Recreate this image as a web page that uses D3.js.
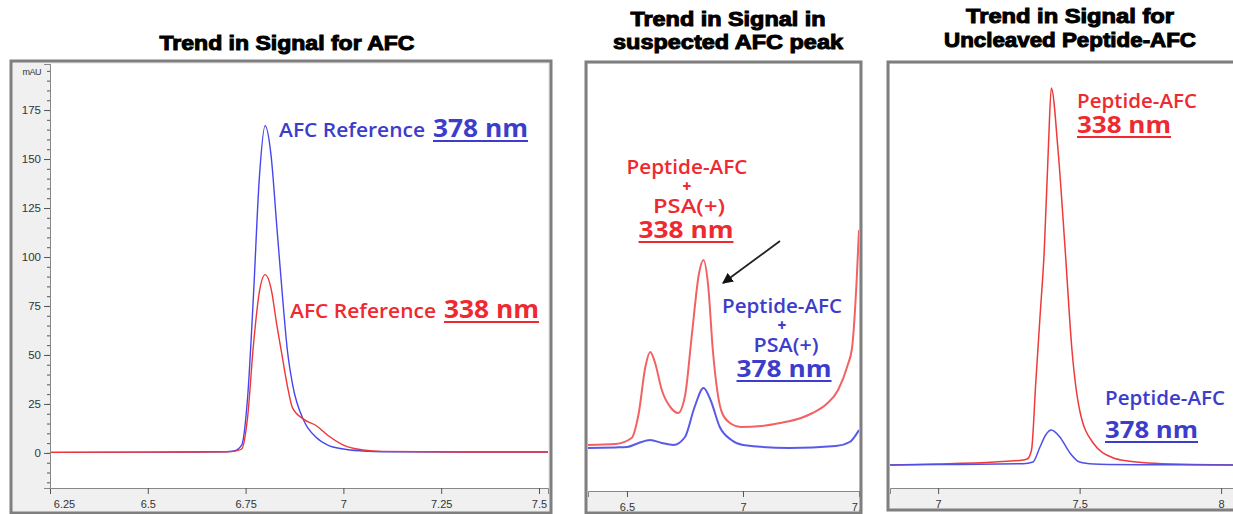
<!DOCTYPE html>
<html>
<head>
<meta charset="utf-8">
<script src="https://cdn.jsdelivr.net/npm/d3@7"></script>
<style>
  body { margin: 0; background: #fff; }
  svg { display: block; }
</style>
</head>
<body>
<div id="chart"></div>
<script>
// ---- data ----
// panel 1: AFC reference
var afcTime = [6.25, 6.5, 6.7, 6.72, 6.74, 6.755, 6.77, 6.785, 6.80, 6.815, 6.83, 6.843, 6.857, 6.87, 6.9, 6.93, 6.96, 7.0, 7.05, 7.1, 7.3, 7.523];
var afc378 = [0.3, 0.4, 0.6, 1, 4, 28, 80, 140, 167, 152, 115, 83, 52, 35, 16, 8, 4, 2, 1, 0.6, 0.5, 0.5];
var afc338 = [0.3, 0.4, 0.6, 0.8, 2, 18, 55, 82, 91, 84, 65, 50, 34, 23, 17, 14, 9, 4, 1.5, 0.8, 0.5, 0.5];

// panel 2: suspected AFC peak (relative signal)
var psaTime338 = [6.332, 6.45, 6.52, 6.55, 6.58, 6.6, 6.62, 6.65, 6.69, 6.72, 6.75, 6.78, 6.81, 6.83, 6.85, 6.87, 6.91, 6.95, 6.99, 7.08, 7.16, 7.25, 7.3, 7.36, 7.41, 7.45, 7.47, 7.49, 7.5];
var psa338 = [2.5, 3, 6, 18, 42, 49, 44, 30, 21, 18.5, 27, 58, 88, 95, 82, 50, 18.5, 13, 11.5, 12, 13.5, 16, 18.5, 23, 30, 42, 51, 85, 110];
var psaTime378 = [6.332, 6.45, 6.5, 6.55, 6.6, 6.65, 6.7, 6.75, 6.79, 6.83, 6.86, 6.9, 6.95, 7.0, 7.2, 7.4, 7.46, 7.5];
var psa378 = [1, 1.3, 1.5, 3.5, 5, 3.5, 2.5, 6.5, 21, 31, 25, 11.5, 5, 2.5, 1, 2, 4, 10];

// panel 3: uncleaved peptide-AFC (relative signal)
var pepTime338 = [6.83, 7.0, 7.2, 7.3, 7.315, 7.33, 7.345, 7.36, 7.375, 7.39, 7.4, 7.424, 7.449, 7.473, 7.5, 7.548, 7.62, 7.67, 7.74, 7.9, 8.042];
var pep338 = [0, 0.5, 1.5, 2.5, 3, 7.5, 41, 74, 107, 160, 188.5, 157, 107.5, 57.5, 27.5, 11, 3.5, 2, 1, 0.3, 0];
var pepTime378 = [6.83, 7.0, 7.3, 7.335, 7.36, 7.38, 7.4, 7.43, 7.466, 7.5, 7.55, 7.6, 7.8, 8.042];
var pep378 = [0, 0.2, 0.6, 1.5, 9, 15, 17.5, 14, 6, 1.5, 0.5, 0.3, 0.1, 0];

// axis ticks
var p1YMajor = [0, 25, 50, 75, 100, 125, 150, 175];
var p1XMajor = [6.25, 6.5, 6.75, 7, 7.25, 7.5];
var p2XMajor = [6.5, 7, 7.5];
var p3XMajor = [7, 7.5, 8];

var RED = "#ee2a30", BLUE = "#3d3dcc";

var svg = d3.select("#chart").append("svg")
  .attr("width", 1233).attr("height", 514)
  .style("font-family", "'Liberation Sans', Arial, sans-serif");
var defs = svg.append("defs");

function title(lines, cx, baselines, lengths) {
  lines.forEach(function(t, i) {
    svg.append("text")
      .attr("x", cx).attr("y", baselines[i])
      .attr("text-anchor", "middle")
      .attr("font-size", 20).attr("font-weight", "bold")
      .attr("stroke", "#000").attr("stroke-width", 1)
      .attr("textLength", lengths[i]).attr("lengthAdjust", "spacingAndGlyphs")
      .text(t);
  });
}

function panel(opt) {
  var g = svg.append("g");
  // frame + grey axis strips
  g.append("rect")
    .attr("x", opt.frame[0]).attr("y", opt.frame[1])
    .attr("width", opt.frame[2]).attr("height", opt.frame[3])
    .attr("fill", "#f0f0f0").attr("stroke", "#7f7f7f").attr("stroke-width", 3);
  g.append("rect")
    .attr("x", opt.x0).attr("y", opt.y0)
    .attr("width", opt.x1 - opt.x0).attr("height", opt.y1 - opt.y0)
    .attr("fill", "#fff");

  var frameClip = "frame" + opt.id;
  defs.append("clipPath").attr("id", frameClip).append("rect")
    .attr("x", opt.frame[0] + 1.5).attr("y", opt.frame[1] + 1.5)
    .attr("width", opt.frame[2] - 3).attr("height", opt.frame[3] - 3);

  var x = d3.scaleLinear().domain(opt.xDomain).range([opt.x0, opt.x1]);
  var y = d3.scaleLinear().domain(opt.yDomain).range([opt.y1, opt.y0]);

  // bottom axis: minor then major
  var minor = d3.range(opt.xDomain[0], opt.xDomain[1] + 1e-9, opt.xMinor)
    .map(function(v) { return Math.round(v / opt.xMinor) * opt.xMinor; })
    .filter(function(v) { return v >= opt.xDomain[0] - 1e-9 && v <= opt.xDomain[1] + 1e-9; });
  var xm = g.append("g").attr("transform", "translate(0," + opt.y1 + ")")
    .attr("clip-path", "url(#" + frameClip + ")")
    .call(d3.axisBottom(x).tickValues(minor).tickSize(3).tickFormat(""));
  var xa = g.append("g").attr("transform", "translate(0," + opt.y1 + ")")
    .call(d3.axisBottom(x).tickValues(opt.xMajor).tickSize(6).tickPadding(6)
      .tickFormat(function(d) { return d3.format("")(d); }));
  // clip labels to the frame (translated clip is in local coords, so wrap)
  var wrap = g.append("g").attr("clip-path", "url(#" + frameClip + ")");
  wrap.node().appendChild(xa.node());
  [xm, xa].forEach(function(a) {
    a.select(".domain").attr("stroke", "#888");
    a.selectAll(".tick line").attr("stroke", "#555");
  });
  xa.selectAll(".tick text").attr("font-size", 11).attr("fill", "#333")
    .attr("font-family", "'Liberation Sans', Arial, sans-serif");
  if (opt.firstLabelShift) {
    xa.selectAll(".tick text").filter(function(d, i) { return i === 0; })
      .attr("dx", opt.firstLabelShift);
  }

  var line = d3.line()
    .x(function(d) { return x(d[0]); })
    .y(function(d) { return y(d[1]); })
    .curve(d3.curveMonotoneX);
  var clipId = "clip" + opt.id;
  defs.append("clipPath").attr("id", clipId).append("rect")
    .attr("x", opt.x0).attr("y", opt.y0)
    .attr("width", opt.x1 - opt.x0).attr("height", opt.y1 - opt.y0);
  opt.series.forEach(function(s) {
    g.append("path")
      .datum(d3.zip(s.t, s.v))
      .attr("clip-path", "url(#" + clipId + ")")
      .attr("fill", "none").attr("stroke", s.color)
      .attr("stroke-width", s.width).attr("stroke-linejoin", "round")
      .attr("d", line);
  });
  return { g: g, x: x, y: y };
}

// ---- panel 1 ----
title(["Trend in Signal for AFC"], 287, [50], [255]);
var p1 = panel({
  id: 1, frame: [11, 61, 540, 452],
  x0: 50, x1: 548, y0: 64, y1: 488,
  xDomain: [6.25, 7.523], yDomain: [-17.9, 198.5],
  xMajor: p1XMajor, xMinor: 0.05, firstLabelShift: 14,
  series: [
    { t: afcTime, v: afc378, color: "#4646ee", width: 1.4 },
    { t: afcTime, v: afc338, color: "#ee3636", width: 1.4 }
  ]
});
var yMinor = d3.range(-15, 200, 5);
var ym = p1.g.append("g").attr("transform", "translate(50,0)")
  .call(d3.axisLeft(p1.y).tickValues(yMinor).tickSize(3).tickFormat(""));
var ya = p1.g.append("g").attr("transform", "translate(50,0)")
  .call(d3.axisLeft(p1.y).tickValues(p1YMajor).tickSize(6).tickPadding(3));
[ym, ya].forEach(function(a) {
  a.select(".domain").attr("stroke", "#888");
  a.selectAll(".tick line").attr("stroke", "#555");
});
ya.selectAll(".tick text").attr("font-size", 11.5).attr("fill", "#333")
  .attr("font-family", "'Liberation Sans', Arial, sans-serif");
p1.g.append("text").attr("x", 41).attr("y", p1.y(195) + 4)
  .attr("text-anchor", "end").attr("font-size", 9).attr("fill", "#333")
  .attr("letter-spacing", -0.5).text("mAU");

// ---- panel 2 ----
title(["Trend in Signal in", "suspected AFC peak"], 728, [26, 49], [195, 230]);
var p2 = panel({
  id: 2, frame: [586, 62, 275, 451],
  x0: 588, x1: 859, y0: 64, y1: 491,
  xDomain: [6.332, 7.5], yDomain: [-20.5, 193],
  xMajor: p2XMajor, xMinor: 0.1,
  series: [
    { t: psaTime338, v: psa338, color: "#f26262", width: 2 },
    { t: psaTime378, v: psa378, color: "#5a5ae8", width: 2 }
  ]
});

// ---- panel 3 ----
title(["Trend in Signal for", "Uncleaved Peptide-AFC"], 1070, [23, 47], [208, 252]);
var p3 = panel({
  id: 3, frame: [888, 62, 360, 448],
  x0: 890, x1: 1233, y0: 64, y1: 488,
  xDomain: [6.83, 8.042], yDomain: [-11.5, 200.5],
  xMajor: p3XMajor, xMinor: 0.1,
  series: [
    { t: pepTime338, v: pep338, color: "#ee3a3a", width: 1.5 },
    { t: pepTime378, v: pep378, color: "#5050e6", width: 1.5 }
  ]
});

// ---- annotations ----
function label(x, y, txt, color, size, weight, len, underline, anchor) {
  var t = svg.append("text")
    .attr("x", x).attr("y", y)
    .attr("text-anchor", anchor || "start")
    .attr("font-family", "'Open Sans', 'Noto Sans', sans-serif")
    .attr("font-size", size).attr("font-weight", weight)
    .attr("fill", color).text(txt);
  if (len) t.attr("textLength", len).attr("lengthAdjust", "spacingAndGlyphs");
  if (underline) {
    var x0 = anchor === "middle" ? x - len / 2 : x;
    svg.append("line")
      .attr("x1", x0).attr("x2", x0 + len)
      .attr("y1", y + 4).attr("y2", y + 4)
      .attr("stroke", color).attr("stroke-width", 2);
  }
}

// panel 1
label(279, 137, "AFC Reference", BLUE, 20, 600, 146);
label(433, 137, "378 nm", BLUE, 25, 700, 95, true);
label(290, 318, "AFC Reference", RED, 20, 600, 146);
label(444, 318, "338 nm", RED, 25, 700, 95, true);

// panel 2
label(687, 174, "Peptide-AFC", RED, 19, 600, 121, false, "middle");
label(687, 192, "+", RED, 15, 800, null, false, "middle");
label(689, 213, "PSA(+)", RED, 19, 600, 72, false, "middle");
label(686, 238, "338 nm", RED, 24, 700, 95, true, "middle");
label(782, 313, "Peptide-AFC", BLUE, 19, 600, 120, false, "middle");
label(782, 331, "+", BLUE, 15, 800, null, false, "middle");
label(786, 352, "PSA(+)", BLUE, 19, 600, 65, false, "middle");
label(784, 377, "378 nm", BLUE, 24, 700, 95, true, "middle");

// arrow
defs.append("marker")
  .attr("id", "arrow").attr("viewBox", "0 0 10 10")
  .attr("refX", 9).attr("refY", 5)
  .attr("markerWidth", 6).attr("markerHeight", 6)
  .attr("orient", "auto")
  .append("path").attr("d", "M0,0L10,5L0,10z").attr("fill", "#111");
svg.append("line")
  .attr("x1", 780).attr("y1", 241).attr("x2", 723).attr("y2", 283)
  .attr("stroke", "#222").attr("stroke-width", 1.8)
  .attr("marker-end", "url(#arrow)");

// panel 3
label(1077, 108, "Peptide-AFC", RED, 19, 600, 120);
label(1077, 133, "338 nm", RED, 24, 700, 94, true);
label(1105, 405, "Peptide-AFC", BLUE, 19, 600, 120);
label(1105, 438, "378 nm", BLUE, 24, 700, 93, true);
</script>
</body>
</html>
